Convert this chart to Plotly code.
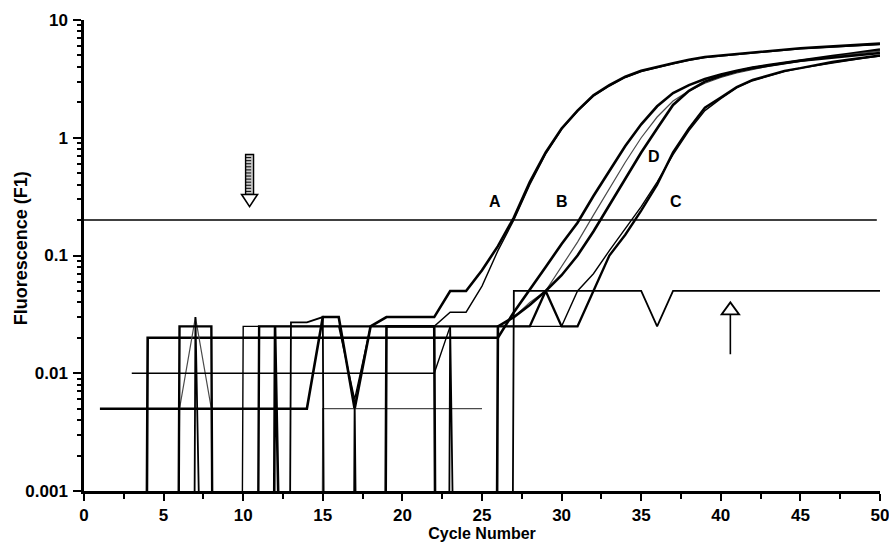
import math
import plotly.graph_objects as go

# ---------------- data (cycle 1..50); 0 = zero reading, None = no reading ----------------
cycles = list(range(1, 51))

sample_A1 = ([0.005] * 14 +
             [0.03, 0.03, 0.005, 0.025, 0.03, 0.03, 0.03, 0.03, 0.05, 0.05, 0.075, 0.12] +
             [0.21, 0.42, 0.75, 1.2, 1.7, 2.3, 2.8, 3.3, 3.7, 4.0, 4.3, 4.6, 4.85, 5.0,
              5.15, 5.3, 5.45, 5.6, 5.75, 5.85, 5.95, 6.05, 6.15, 6.3])

sample_A2 = ([0] * 9 + [0.025] * 7 + [0.006] + [0.025] * 5 +
             [0.033, 0.033, 0.055, 0.11] +
             [0.2, 0.4, 0.73, 1.18, 1.68, 2.25, 2.75, 3.25, 3.65, 3.95, 4.25, 4.55, 4.8, 4.95,
              5.1, 5.25, 5.4, 5.55, 5.7, 5.8, 5.9, 6.0, 6.1, 6.2])

sample_B = ([0] * 3 + [0.02] * 23 +
            [0.033, 0.052, 0.08, 0.125, 0.19, 0.32, 0.52, 0.85, 1.3, 1.85, 2.4, 2.8, 3.15, 3.45,
             3.7, 3.95, 4.15, 4.35, 4.55, 4.75, 4.95, 5.15, 5.35, 5.6])

sample_G = ([None] * 4 + [0, 0.005, 0.03, 0.005] + [0] * 6 + [0.005] * 11 + [None] +
            [0.03, 0.04, 0.05, 0.08, 0.13, 0.22, 0.37, 0.62, 1.0, 1.5, 2.05, 2.5, 2.9, 3.25,
             3.55, 3.8, 4.05, 4.25, 4.45, 4.65, 4.85, 5.05, 5.25, 5.45])

sample_D = ([0] * 11 + [0.025] + [0] * 6 + [0.025] * 4 + [0] * 3 + [0.025] +
            [0.03, 0.038, 0.05, 0.068, 0.1, 0.16, 0.27, 0.45, 0.75, 1.2, 1.9, 2.5, 3.0, 3.35,
             3.65, 3.9, 4.1, 4.3, 4.5, 4.65, 4.8, 4.95, 5.1, 5.25])

sample_C1 = ([0] * 5 + [0.025] * 3 + [0] * 2 + [0.025] * 18 +
             [0.05, 0.025, 0.025, 0.05, 0.1, 0.15, 0.24, 0.4, 0.75, 1.2, 1.8, 2.2, 2.7, 3.1,
              3.4, 3.7, 3.9, 4.15, 4.4, 4.6, 4.8, 5.0])

sample_C2 = ([None] * 2 + [0.01] * 20 + [0.025] * 8 +
             [0.05, 0.07, 0.11, 0.17, 0.26, 0.42, 0.72, 1.15, 1.7, 2.15, 2.65, 3.05, 3.35, 3.65,
              3.9, 4.1, 4.35, 4.55, 4.75, 4.95])

sample_neg = ([0] * 6 + [0.03] + [0] * 5 + [0.027, 0.027, 0.03, 0, 0.006] + [0] * 5 + [0.025] +
              [0] * 3 + [0.05] * 9 + [0.025] + [0.05] * 14)

threshold_cycles = [0, 49.8]
threshold_level = [0.2, 0.2]

curve_labels = ["A", "B", "D", "C"]
label_cycles = [25.8, 30.0, 35.8, 37.2]
label_levels = [0.29, 0.29, 0.69, 0.29]

y_tick_vals = [0.001, 0.01, 0.1, 1, 10]
y_tick_text = ["0.001", "0.01", "0.1", "1", "10"]
y_minor_vals = [m * 10.0 ** e for e in (-3, -2, -1, 0) for m in range(2, 10)]
x_minor_vals = [2.5, 7.5, 12.5, 17.5, 22.5, 27.5, 32.5, 37.5, 42.5, 47.5]

# ---------------- figure ----------------
FLOOR = 1e-30  # zero readings plunge below the log axis


def prep(vals):
    return [None if v is None else (FLOOR if v == 0 else v) for v in vals]


series = [
    (sample_A1, 2.6, "black"),
    (sample_A2, 1.4, "black"),
    (sample_B, 2.6, "black"),
    (sample_G, 1.2, "#4a4a4a"),
    (sample_D, 2.6, "black"),
    (sample_C1, 2.4, "black"),
    (sample_C2, 1.4, "black"),
    (sample_neg, 1.8, "black"),
]

fig = go.Figure()
for vals, w, col in series:
    fig.add_trace(go.Scatter(x=cycles, y=prep(vals), mode="lines",
                             line=dict(color=col, width=w), connectgaps=False,
                             showlegend=False, hoverinfo="skip"))

fig.add_trace(go.Scatter(x=threshold_cycles, y=threshold_level, mode="lines",
                         line=dict(color="black", width=1.6), showlegend=False))

FONT = "Liberation Sans, Arial, sans-serif"

for t, cx, cy in zip(curve_labels, label_cycles, label_levels):
    fig.add_annotation(x=cx, y=math.log10(cy), text=t, showarrow=False,
                       font=dict(family=FONT, size=16, color="black", weight="bold"))

# y-axis title placed close to the tick labels, as in the original
fig.add_annotation(xref="paper", yref="paper", x=-0.078, y=0.515, text="Fluorescence (F1)",
                   textangle=-90, showarrow=False, xanchor="center", yanchor="middle",
                   font=dict(family=FONT, size=18, color="black", weight="bold"))


def yp(v):
    return (math.log10(v) + 3) / 4


shapes = []
# down arrow (hatched shaft, hollow head)
ax, top, base, tip = 10.4, 0.72, 0.33, 0.26
sw, hw = 0.25, 0.5
shapes.append(dict(type="rect", xref="x", yref="paper", x0=ax - sw, x1=ax + sw,
                   y0=yp(base), y1=yp(top), line=dict(color="black", width=1.4),
                   fillcolor="#c8c8c8"))
hatch = ""
n = 13
for i in range(1, n):
    yy = yp(base) + (yp(top) - yp(base)) * i / n
    hatch += f"M {ax - sw},{yy} L {ax + sw * 0.4},{yy} "
shapes.append(dict(type="path", xref="x", yref="paper", path=hatch,
                   line=dict(color="black", width=1)))
shapes.append(dict(type="path", xref="x", yref="paper",
                   path=f"M {ax - hw},{yp(base)} L {ax + hw},{yp(base)} L {ax},{yp(tip)} Z",
                   line=dict(color="black", width=1.6), fillcolor="white"))

# up arrow (hollow head, thin shaft)
ux, utip, ubase, ubot, uhw = 40.6, 0.040, 0.0316, 0.0145, 0.55
shapes.append(dict(type="line", xref="x", yref="paper", x0=ux, x1=ux,
                   y0=yp(ubot), y1=yp(ubase), line=dict(color="black", width=1.6)))
shapes.append(dict(type="path", xref="x", yref="paper",
                   path=f"M {ux - uhw},{yp(ubase)} L {ux + uhw},{yp(ubase)} L {ux},{yp(utip)} Z",
                   line=dict(color="black", width=1.8), fillcolor="white"))
fig.update_layout(shapes=shapes)

fig.update_layout(
    width=889, height=548,
    margin=dict(l=84, r=9, t=20, b=57),
    paper_bgcolor="white", plot_bgcolor="white",
    font=dict(family=FONT, color="black"),
    xaxis=dict(range=[0, 50], tick0=0, dtick=5, showgrid=False, zeroline=False,
               showline=True, linecolor="black", linewidth=2.5,
               ticks="outside", ticklen=7, tickwidth=2.2, tickcolor="black",
               ticklabeloverflow="allow", automargin=False,
               minor=dict(tickvals=x_minor_vals, ticks="outside", ticklen=5, tickwidth=2,
                          tickcolor="black", showgrid=False),
               tickfont=dict(family=FONT, size=17, weight="bold"),
               title=dict(text="Cycle Number", standoff=4,
                          font=dict(family=FONT, size=16, weight="bold"))),
    yaxis=dict(type="log", range=[-3, 1], tickvals=y_tick_vals, ticktext=y_tick_text,
               showgrid=False, zeroline=False, showline=True, linecolor="black",
               linewidth=2.5, ticks="outside", ticklen=8, tickwidth=2.2, tickcolor="black",
               ticklabelstandoff=2, automargin=False,
               minor=dict(tickvals=y_minor_vals, ticks="outside", ticklen=4, tickwidth=2,
                          tickcolor="black", showgrid=False),
               tickfont=dict(family=FONT, size=17, weight="bold")),
)

fig.write_html("out.html", config={"displayModeBar": False},
               post_script="document.body.style.margin='0';")
